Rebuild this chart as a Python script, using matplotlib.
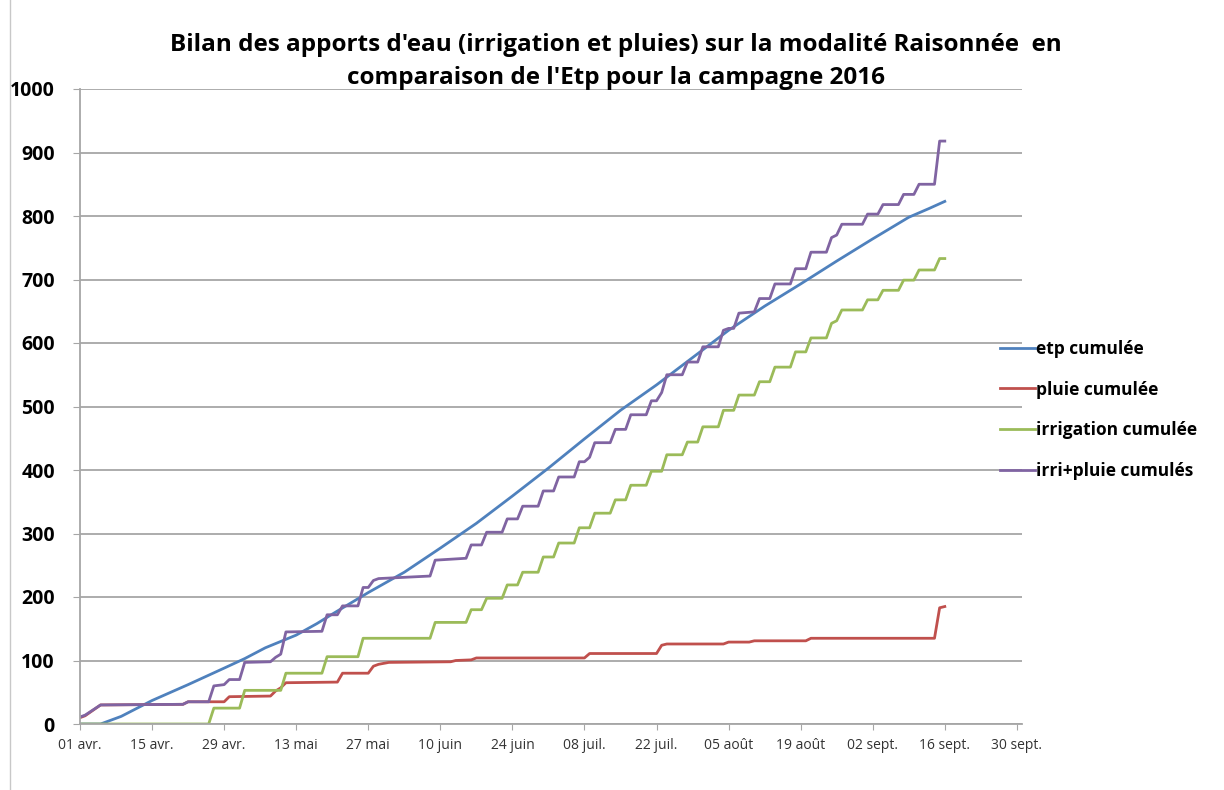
import matplotlib
matplotlib.use("Agg")
import matplotlib.pyplot as plt
from matplotlib.lines import Line2D
import pandas as pd

YEAR = "2016-"

## lectures du graphique (date mm-jj, valeur en mm)
etp_dates = ["04-01", "04-05", "04-09", "04-15", "04-22", "04-29", "05-03", "05-07",
             "05-10", "05-13", "05-17", "05-20", "05-27", "06-03", "06-10", "06-17",
             "06-24", "07-01", "07-08", "07-15", "07-22", "07-29", "08-05", "08-12",
             "08-19", "08-26", "09-02", "09-09", "09-13", "09-16"]
etp_vals = [0, 0, 12, 37, 62, 88, 103, 120, 130, 140, 158, 173, 207, 239, 277, 316,
            359, 403, 449, 494, 534, 577, 620, 658, 693, 729, 764, 798, 812, 823]

pluie_dates = ["04-01", "04-02", "04-05", "04-21", "04-22", "04-29", "04-30", "05-08",
               "05-09", "05-10", "05-11", "05-21", "05-22", "05-27", "05-28", "05-29",
               "05-31", "06-12", "06-13", "06-16", "06-17", "07-08", "07-09", "07-22",
               "07-23", "07-24", "08-04", "08-05", "08-09", "08-10", "08-20", "08-21",
               "09-14", "09-15", "09-16"]
pluie_vals = [10, 13, 30, 31, 35, 35, 43, 44, 52, 57, 65, 66, 80, 80, 91, 94,
              97, 98, 100, 101, 104, 104, 111, 111, 124, 126, 126, 129, 129, 131, 131, 135,
              135, 183, 185]

irri_dates = ["04-01", "04-26", "04-27", "05-02", "05-03", "05-10", "05-11", "05-18",
              "05-19", "05-25", "05-26", "06-08", "06-09", "06-15", "06-16", "06-18",
              "06-19", "06-22", "06-23", "06-25", "06-26", "06-29", "06-30", "07-02",
              "07-03", "07-06", "07-07", "07-09", "07-10", "07-13", "07-14", "07-16",
              "07-17", "07-20", "07-21", "07-23", "07-24", "07-27", "07-28", "07-30",
              "07-31", "08-03", "08-04", "08-06", "08-07", "08-10", "08-11", "08-13",
              "08-14", "08-17", "08-18", "08-20", "08-21", "08-24", "08-25", "08-26",
              "08-27", "08-31", "09-01", "09-03", "09-04", "09-07", "09-08", "09-10",
              "09-11", "09-14", "09-15", "09-16"]
irri_vals = [0, 0, 25, 25, 53, 53, 80, 80, 106, 106, 135, 135, 160, 160, 180, 180,
             198, 198, 219, 219, 239, 239, 263, 263, 285, 285, 309, 309, 332, 332, 353, 353,
             376, 376, 398, 398, 424, 424, 444, 444, 468, 468, 494, 494, 518, 518, 539, 539,
             562, 562, 586, 586, 608, 608, 631, 635, 652, 652, 668, 668, 683, 683, 699, 699,
             715, 715, 733, 733]

total_dates = ["04-01", "04-02", "04-05", "04-21", "04-22", "04-26", "04-27", "04-29",
               "04-30", "05-02", "05-03", "05-08", "05-09", "05-10", "05-11", "05-18",
               "05-19", "05-21", "05-22", "05-25", "05-26", "05-27", "05-28", "05-29",
               "06-08", "06-09", "06-15", "06-16", "06-18", "06-19", "06-22", "06-23",
               "06-25", "06-26", "06-29", "06-30", "07-02", "07-03", "07-06", "07-07",
               "07-08", "07-09", "07-10", "07-13", "07-14", "07-16", "07-17", "07-20",
               "07-21", "07-22", "07-23", "07-24", "07-27", "07-28", "07-30", "07-31",
               "08-03", "08-04", "08-05", "08-06", "08-07", "08-10", "08-11", "08-13",
               "08-14", "08-17", "08-18", "08-20", "08-21", "08-24", "08-25", "08-26",
               "08-27", "08-31", "09-01", "09-03", "09-04", "09-07", "09-08", "09-10",
               "09-11", "09-14", "09-15", "09-16"]
total_vals = [11, 14, 30, 31, 35, 35, 60, 62, 70, 70, 97, 98, 105, 110, 145, 146,
              172, 172, 186, 186, 215, 215, 226, 229, 233, 258, 261, 282, 282, 302, 302, 323,
              323, 343, 343, 367, 367, 389, 389, 413, 413, 420, 443, 443, 464, 464, 487, 487,
              509, 509, 522, 550, 550, 570, 570, 594, 594, 620, 623, 623, 647, 649, 670, 670,
              693, 693, 717, 717, 743, 743, 766, 770, 787, 787, 803, 803, 818, 818, 834, 834,
              850, 850, 918, 918]

labels = ["etp cumulée", "pluie cumulée", "irrigation cumulée", "irri+pluie cumulés"]
colors = ["#4F81BD", "#C0504D", "#9BBB59", "#8064A2"]

tick_dates = ["04-01", "04-15", "04-29", "05-13", "05-27", "06-10", "06-24", "07-08",
              "07-22", "08-05", "08-19", "09-02", "09-16", "09-30"]
tick_labels = ["01 avr.", "15 avr.", "29 avr.", "13 mai", "27 mai", "10 juin", "24 juin",
               "08 juil.", "22 juil.", "05 août", "19 août", "02 sept.", "16 sept.", "30 sept."]


def to_dt(lst):
    return pd.to_datetime([YEAR + d for d in lst])


plt.rcParams['font.family'] = ['Open Sans', 'DejaVu Sans']

fig = plt.figure(figsize=(12.24, 7.9), dpi=100)
ax = fig.add_axes([80 / 1224, 1 - 724 / 790, (1022 - 80) / 1224, (724 - 89) / 790])

series = [(etp_dates, etp_vals), (pluie_dates, pluie_vals),
          (irri_dates, irri_vals), (total_dates, total_vals)]
for (d, v), lab, col in zip(series, labels, colors):
    ax.plot(to_dt(d), v, color=col, lw=2.0, label=lab, solid_joinstyle="round")

ax.set_ylim(0, 1000)
ax.set_yticks(range(0, 1001, 100))
ax.set_xlim(pd.Timestamp("2016-04-01"), pd.Timestamp("2016-10-01"))
ax.set_xticks(to_dt(tick_dates))
ax.set_xticklabels(tick_labels)

ax.yaxis.grid(True, color="#a6a6a6", lw=1.3)
ax.set_axisbelow(True)
for s in ["top", "right"]:
    ax.spines[s].set_visible(False)
for s in ["left", "bottom"]:
    ax.spines[s].set_color("#a6a6a6")
    ax.spines[s].set_linewidth(1.3)

ax.tick_params(axis="y", length=5, color="#a6a6a6", pad=13, labelsize=14)
ax.tick_params(axis="x", length=4, color="#a6a6a6", pad=6, labelsize=10, labelcolor="#333333")
for t in ax.get_yticklabels():
    t.set_fontweight("bold")

fig.text(0.503, 1 - 45 / 790, "Bilan des apports d'eau (irrigation et pluies) sur la modalité Raisonnée  en",
         ha="center", va="center", fontsize=17.5, fontweight="bold")
fig.text(0.503, 1 - 78 / 790, "comparaison de l'Etp pour la campagne 2016",
         ha="center", va="center", fontsize=17.5, fontweight="bold")

leg = ax.legend(loc="upper left", bbox_to_anchor=(1000 / 1224, 1 - 340 / 790),
                bbox_transform=fig.transFigure, frameon=False, handlelength=2.0,
                handletextpad=0.1, labelspacing=1.3, borderpad=0, borderaxespad=0,
                prop={"size": 12.5, "weight": "bold"})

fig.add_artist(Line2D([10 / 1224, 10 / 1224], [0, 1], transform=fig.transFigure,
                      color="#c8c8c8", lw=1))

fig.savefig("out.png", dpi=100)
